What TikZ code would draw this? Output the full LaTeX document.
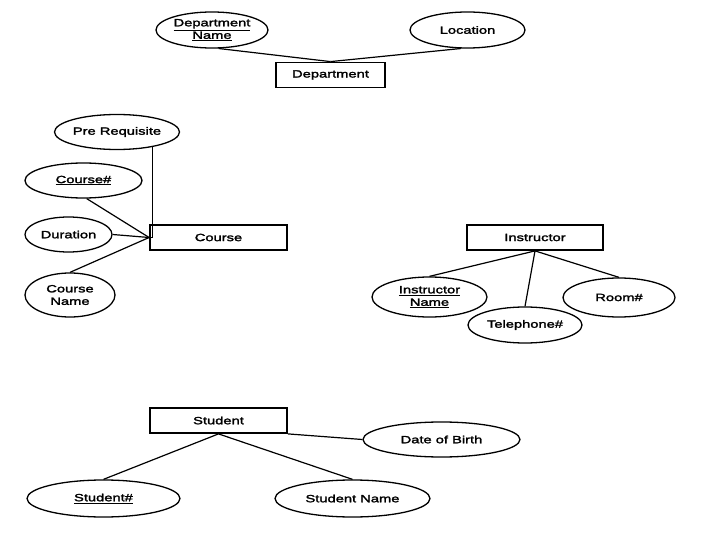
\documentclass[tikz,border=0pt]{standalone}
\usepackage{fontspec}
\setmainfont{Liberation Sans}[FakeStretch=1.4,FakeBold=2.2]
\usetikzlibrary{shapes.geometric}
\tikzset{
  ent/.style={draw, line width=1.8pt, minimum width=#1, minimum height=25pt, inner sep=0pt, font=\fontsize{10.5}{12}\selectfont},
  ent/.default=110pt,
  attr/.style={draw, ellipse, line width=1.3pt, inner sep=0pt, align=center, font=\fontsize{10.5}{12.5}\selectfont},
  link/.style={line width=1.2pt}
}
\begin{document}
\begin{tikzpicture}[x=1pt,y=-1pt]
\useasboundingbox (0,0) rectangle (720,540);
% Department
\node[ent=109pt] (dept) at (330.5,75) {Department};
\node[attr, minimum width=112pt, minimum height=36pt] (dname) at (212,30) {\underline{Department}\\\underline{Name}};
\node[attr, minimum width=115pt, minimum height=36pt] (loc) at (467.5,30) {Location};
\draw[link] (dname.-70) -- (dept.north);
\draw[link] (loc.-110) -- (dept.north);
% Course
\node[ent=137pt] (course) at (218.5,237.5) {Course};
\node[attr, minimum width=125pt, minimum height=35pt] (pre) at (117,132) {Pre Requisite};
\node[attr, minimum width=117pt, minimum height=35pt] (cnum) at (83.5,180.5) {\underline{Course\#}};
\node[attr, minimum width=87pt, minimum height=35pt] (dur) at (68.5,234.5) {Duration};
\node[attr, minimum width=90pt, minimum height=44pt] (cname) at (70,295) {Course\\Name};
\coordinate (cw) at (course.west);
\draw[link] (pre.-23) |- (cw);
\draw[link] (cnum.-80) -- (cw);
\draw[link] (dur.east) -- (cw);
\draw[link] (cname.north) -- (cw);
% Instructor
\node[ent=136pt] (inst) at (535,237.5) {Instructor};
\node[attr, minimum width=115pt, minimum height=40pt] (iname) at (429.5,297) {\underline{Instructor}\\\underline{Name}};
\node[attr, minimum width=114pt, minimum height=36pt] (tel) at (525,325) {Telephone\#};
\node[attr, minimum width=112pt, minimum height=39pt] (room) at (619,297.5) {Room\#};
\draw[link] (inst.south) -- (iname.north);
\draw[link] (inst.south) -- (tel.north);
\draw[link] (inst.south) -- (room.north);
% Student
\node[ent=137pt] (stu) at (218.5,420.5) {Student};
\node[attr, minimum width=157pt, minimum height=35pt] (dob) at (441.5,439.5) {Date of Birth};
\node[attr, minimum width=153pt, minimum height=37pt] (snum) at (103.5,498.5) {\underline{Student\#}};
\node[attr, minimum width=155pt, minimum height=37pt] (sname) at (352.5,498.5) {Student Name};
\draw[link] (stu.south) -- (snum.north);
\draw[link] (stu.south) -- (sname.north);
\draw[link] (stu.south east) -- (dob.west);
\end{tikzpicture}
\end{document}
